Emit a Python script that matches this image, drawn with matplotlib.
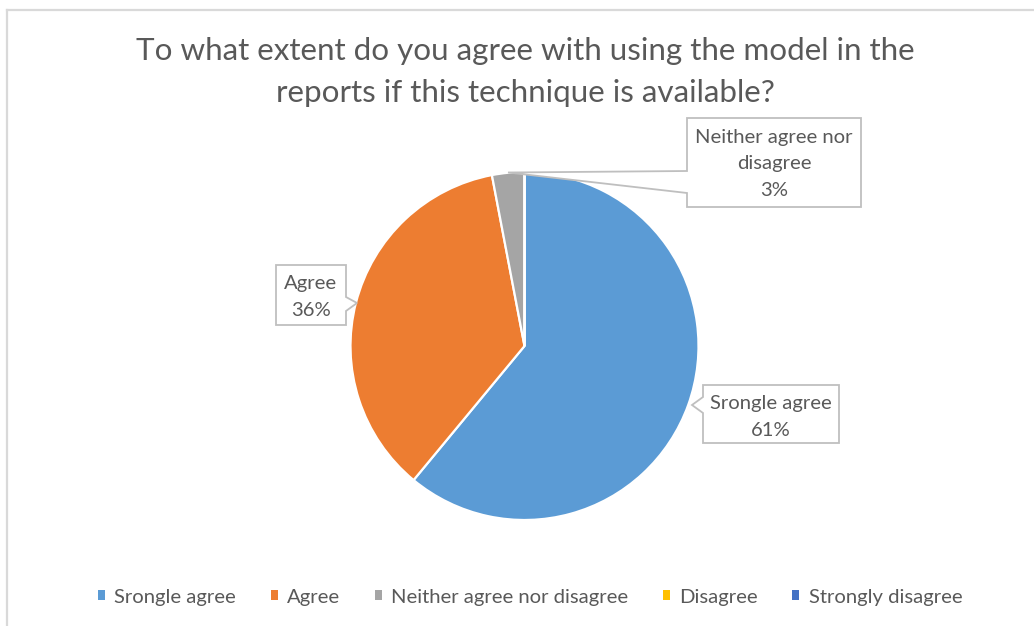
import matplotlib
matplotlib.use("Agg")
import matplotlib.pyplot as plt
from matplotlib.patches import Polygon, Patch

# Survey responses
categories = ["Srongle agree", "Agree", "Neither agree nor disagree",
              "Disagree", "Strongly disagree"]
shares = [61, 36, 3, 0, 0]
colors = ["#5B9BD5", "#ED7D31", "#A5A5A5", "#FFC000", "#4472C4"]
title_lines = ["To what extent do you agree with using the model in the",
               "reports if this technique is available?"]

TEXT = "#595959"
FONT = ["Lato", "DejaVu Sans"]
plt.rcParams["font.family"] = FONT

W, H = 1034, 626
fig = plt.figure(figsize=(W / 100, H / 100), dpi=100)
ax = fig.add_axes([0, 0, 1, 1])


def py(y):
    """Convert a top-down pixel row to the axes' bottom-up coordinate."""
    return H - y


# Pie: starts at 12 o'clock, runs clockwise
cx, cy, r = 524.5, 346, 174
wedges, _ = ax.pie(shares, colors=colors, startangle=90, counterclock=False,
                   center=(cx, py(cy)), radius=r, frame=True,
                   wedgeprops=dict(edgecolor="white", linewidth=1.6))
ax.set_xlim(0, W)
ax.set_ylim(0, H)
ax.set_aspect("equal")
ax.axis("off")

# Chart-area border
ax.plot([7, 7], [py(10), py(H + 5)], color="#D9D9D9", lw=1.6, zorder=1)
ax.plot([7, W + 5], [py(10), py(10)], color="#D9D9D9", lw=1.6, zorder=1)

# Title
for i, line in enumerate(title_lines):
    ax.text(525.5, py(51 + 42 * i), line, ha="center", va="center",
            fontsize=22.6, color=TEXT)


def callout(points, lines, center_x, rows):
    pts = [(x, py(y)) for x, y in points]
    ax.add_patch(Polygon(pts, closed=True, facecolor="white",
                         edgecolor="#BFBFBF", lw=1.3, zorder=5))
    for txt, yy in zip(lines, rows):
        ax.text(center_x, py(yy), txt, ha="center", va="center",
                fontsize=14.6, color=TEXT, zorder=6)


# Neither agree nor disagree
callout([(687, 118), (861, 118), (861, 207), (687, 207), (687, 193),
         (508, 172.5), (687, 171)],
        ["Neither agree nor", "disagree", f"{shares[2]}%"], 774, [137, 163, 190])

# Agree
callout([(276, 265), (346, 265), (346, 297), (357, 303), (346, 311),
         (346, 325), (276, 325)],
        [categories[1], f"{shares[1]}%"], 311, [283, 310])

# Srongle agree
callout([(703, 385), (839, 385), (839, 443), (703, 443), (703, 413),
         (692, 405), (703, 397)],
        [categories[0], f"{shares[0]}%"], 771, [404, 431])

# Legend
handles = [Patch(facecolor=c, edgecolor="none") for c in colors]
leg = ax.legend(handles, categories, loc="center", bbox_to_anchor=(530 / W, 1 - 597 / H),
                ncol=5, frameon=False, fontsize=14.6, handlelength=0.36, handleheight=0.36,
                handletextpad=0.45, columnspacing=1.7, labelcolor=TEXT)

fig.savefig("out.png", dpi=100, facecolor="white")
